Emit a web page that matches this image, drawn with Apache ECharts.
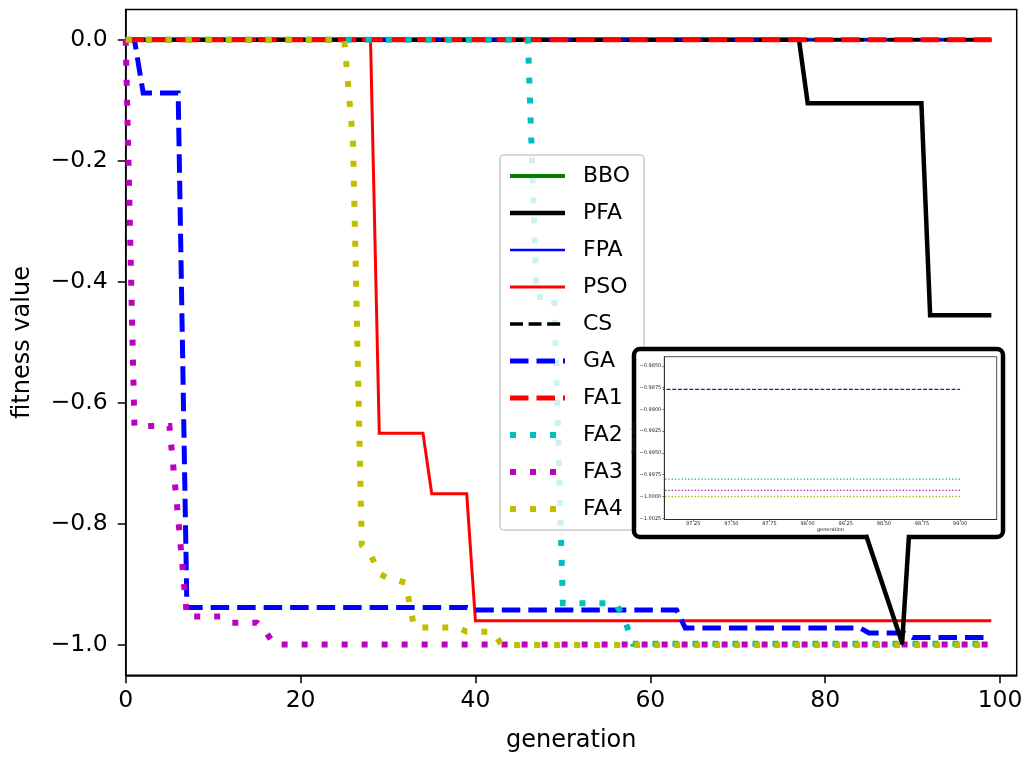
<!DOCTYPE html>
<html>
<head>
<meta charset="utf-8">
<title>fitness value vs generation</title>
<script src="https://cdn.jsdelivr.net/npm/echarts@6/dist/echarts.min.js"></script>
<style>
html, body { margin: 0; padding: 0; background: #fff; }
#chart { width: 1027px; height: 757px; }
</style>
</head>
<body>
<div id="chart"></div>
<script>
// best fitness per generation (0..99)
var BBO = [
	0, 0, 0, 0, 0, 0, 0, 0, 0, 0,
	0, 0, 0, 0, 0, 0, 0, 0, 0, 0,
	0, 0, 0, 0, 0, 0, 0, 0, 0, 0,
	0, 0, 0, 0, 0, 0, 0, 0, 0, 0,
	0, 0, 0, 0, 0, 0, 0, 0, 0, 0,
	0, 0, 0, 0, 0, 0, 0, 0, 0, 0,
	0, 0, 0, 0, 0, 0, 0, 0, 0, 0,
	0, 0, 0, 0, 0, 0, 0, 0, 0, 0,
	0, 0, 0, 0, 0, 0, 0, 0, 0, 0,
	0, 0, 0, 0, 0, 0, 0, 0, 0, 0
];
var PFA = [
	0, 0, 0, 0, 0, 0, 0, 0, 0, 0,
	0, 0, 0, 0, 0, 0, 0, 0, 0, 0,
	0, 0, 0, 0, 0, 0, 0, 0, 0, 0,
	0, 0, 0, 0, 0, 0, 0, 0, 0, 0,
	0, 0, 0, 0, 0, 0, 0, 0, 0, 0,
	0, 0, 0, 0, 0, 0, 0, 0, 0, 0,
	0, 0, 0, 0, 0, 0, 0, 0, 0, 0,
	0, 0, 0, 0, 0, 0, 0, 0, -0.105, -0.105,
	-0.105, -0.105, -0.105, -0.105, -0.105, -0.105, -0.105, -0.105, -0.105, -0.105,
	-0.105, -0.105, -0.455, -0.455, -0.455, -0.455, -0.455, -0.455, -0.455, -0.455
];
var FPA = [
	0, 0, 0, 0, 0, 0, 0, 0, 0, 0,
	0, 0, 0, 0, 0, 0, 0, 0, 0, 0,
	0, 0, 0, 0, 0, 0, 0, 0, 0, 0,
	0, 0, 0, 0, 0, 0, 0, 0, 0, 0,
	0, 0, 0, 0, 0, 0, 0, 0, 0, 0,
	0, 0, 0, 0, 0, 0, 0, 0, 0, 0,
	0, 0, 0, 0, 0, 0, 0, 0, 0, 0,
	0, 0, 0, 0, 0, 0, 0, 0, 0, 0,
	0, 0, 0, 0, 0, 0, 0, 0, 0, 0,
	0, 0, 0, 0, 0, 0, 0, 0, 0, 0
];
var PSO = [
	0, 0, 0, 0, 0, 0, 0, 0, 0, 0,
	0, 0, 0, 0, 0, 0, 0, 0, 0, 0,
	0, 0, 0, 0, 0, 0, 0, 0, 0, -0.65,
	-0.65, -0.65, -0.65, -0.65, -0.65, -0.75, -0.75, -0.75, -0.75, -0.75,
	-0.96, -0.96, -0.96, -0.96, -0.96, -0.96, -0.96, -0.96, -0.96, -0.96,
	-0.96, -0.96, -0.96, -0.96, -0.96, -0.96, -0.96, -0.96, -0.96, -0.96,
	-0.96, -0.96, -0.96, -0.96, -0.96, -0.96, -0.96, -0.96, -0.96, -0.96,
	-0.96, -0.96, -0.96, -0.96, -0.96, -0.96, -0.96, -0.96, -0.96, -0.96,
	-0.96, -0.96, -0.96, -0.96, -0.96, -0.96, -0.96, -0.96, -0.96, -0.96,
	-0.96, -0.96, -0.96, -0.96, -0.96, -0.96, -0.96, -0.96, -0.96, -0.96
];
var CS = [
	0, 0, 0, 0, 0, 0, 0, 0, 0, 0,
	0, 0, 0, 0, 0, 0, 0, 0, 0, 0,
	0, 0, 0, 0, 0, 0, 0, 0, 0, 0,
	0, 0, 0, 0, 0, 0, 0, 0, 0, 0,
	0, 0, 0, 0, 0, 0, 0, 0, 0, 0,
	0, 0, 0, 0, 0, 0, 0, 0, 0, 0,
	0, 0, 0, 0, 0, 0, 0, 0, 0, 0,
	0, 0, 0, 0, 0, 0, 0, 0, 0, 0,
	0, 0, 0, 0, 0, 0, 0, 0, 0, 0,
	0, 0, 0, 0, 0, 0, 0, 0, 0, 0
];
var GA = [
	0, 0, -0.088, -0.088, -0.088, -0.088, -0.088, -0.938, -0.938, -0.938,
	-0.938, -0.938, -0.938, -0.938, -0.938, -0.938, -0.938, -0.938, -0.938, -0.938,
	-0.938, -0.938, -0.938, -0.938, -0.938, -0.938, -0.938, -0.938, -0.938, -0.938,
	-0.938, -0.938, -0.938, -0.938, -0.938, -0.938, -0.938, -0.938, -0.938, -0.938,
	-0.942, -0.942, -0.942, -0.942, -0.942, -0.942, -0.942, -0.942, -0.942, -0.942,
	-0.942, -0.942, -0.942, -0.942, -0.942, -0.942, -0.942, -0.942, -0.942, -0.942,
	-0.942, -0.942, -0.942, -0.942, -0.972, -0.972, -0.972, -0.972, -0.972, -0.972,
	-0.972, -0.972, -0.972, -0.972, -0.972, -0.972, -0.972, -0.972, -0.972, -0.972,
	-0.972, -0.972, -0.972, -0.972, -0.972, -0.980, -0.980, -0.980, -0.980, -0.980,
	-0.9877, -0.9877, -0.9877, -0.9877, -0.9877, -0.9877, -0.9877, -0.9877, -0.9877, -0.9877
];
var FA1 = [
	0, 0, 0, 0, 0, 0, 0, 0, 0, 0,
	0, 0, 0, 0, 0, 0, 0, 0, 0, 0,
	0, 0, 0, 0, 0, 0, 0, 0, 0, 0,
	0, 0, 0, 0, 0, 0, 0, 0, 0, 0,
	0, 0, 0, 0, 0, 0, 0, 0, 0, 0,
	0, 0, 0, 0, 0, 0, 0, 0, 0, 0,
	0, 0, 0, 0, 0, 0, 0, 0, 0, 0,
	0, 0, 0, 0, 0, 0, 0, 0, 0, 0,
	0, 0, 0, 0, 0, 0, 0, 0, 0, 0,
	0, 0, 0, 0, 0, 0, 0, 0, 0, 0
];
var FA2 = [
	0, 0, 0, 0, 0, 0, 0, 0, 0, 0,
	0, 0, 0, 0, 0, 0, 0, 0, 0, 0,
	0, 0, 0, 0, 0, 0, 0, 0, 0, 0,
	0, 0, 0, 0, 0, 0, 0, 0, 0, 0,
	0, 0, 0, 0, 0, 0, 0, -0.425, -0.425, -0.425,
	-0.931, -0.931, -0.931, -0.931, -0.931, -0.931, -0.931, -0.955, -0.998, -0.998,
	-0.998, -0.998, -0.998, -0.998, -0.998, -0.998, -0.998, -0.998, -0.998, -0.998,
	-0.998, -0.998, -0.998, -0.998, -0.998, -0.998, -0.998, -0.998, -0.998, -0.998,
	-0.998, -0.998, -0.998, -0.998, -0.998, -0.998, -0.998, -0.998, -0.998, -0.998,
	-0.998, -0.998, -0.998, -0.998, -0.998, -0.998, -0.998, -0.998, -0.998, -0.998
];
var FA3 = [
	0, -0.638, -0.638, -0.638, -0.638, -0.638, -0.79, -0.953, -0.953, -0.953,
	-0.953, -0.953, -0.963, -0.963, -0.963, -0.963, -0.978, -0.9993, -0.9993, -0.9993,
	-0.9993, -0.9993, -0.9993, -0.9993, -0.9993, -0.9993, -0.9993, -0.9993, -0.9993, -0.9993,
	-0.9993, -0.9993, -0.9993, -0.9993, -0.9993, -0.9993, -0.9993, -0.9993, -0.9993, -0.9993,
	-0.9993, -0.9993, -0.9993, -0.9993, -0.9993, -0.9993, -0.9993, -0.9993, -0.9993, -0.9993,
	-0.9993, -0.9993, -0.9993, -0.9993, -0.9993, -0.9993, -0.9993, -0.9993, -0.9993, -0.9993,
	-0.9993, -0.9993, -0.9993, -0.9993, -0.9993, -0.9993, -0.9993, -0.9993, -0.9993, -0.9993,
	-0.9993, -0.9993, -0.9993, -0.9993, -0.9993, -0.9993, -0.9993, -0.9993, -0.9993, -0.9993,
	-0.9993, -0.9993, -0.9993, -0.9993, -0.9993, -0.9993, -0.9993, -0.9993, -0.9993, -0.9993,
	-0.9993, -0.9993, -0.9993, -0.9993, -0.9993, -0.9993, -0.9993, -0.9993, -0.9993, -0.9993
];
var FA4 = [
	0, 0, 0, 0, 0, 0, 0, 0, 0, 0,
	0, 0, 0, 0, 0, 0, 0, 0, 0, 0,
	0, 0, 0, 0, 0, 0, -0.17, -0.835, -0.85, -0.882,
	-0.89, -0.893, -0.897, -0.971, -0.971, -0.971, -0.971, -0.971, -0.971, -0.978,
	-0.978, -0.978, -0.978, -1.0, -1.0, -1.0, -1.0, -1.0, -1.0, -1.0,
	-1.0, -1.0, -1.0, -1.0, -1.0, -1.0, -1.0, -1.0, -1.0, -1.0,
	-1.0, -1.0, -1.0, -1.0, -1.0, -1.0, -1.0, -1.0, -1.0, -1.0,
	-1.0, -1.0, -1.0, -1.0, -1.0, -1.0, -1.0, -1.0, -1.0, -1.0,
	-1.0, -1.0, -1.0, -1.0, -1.0, -1.0, -1.0, -1.0, -1.0, -1.0,
	-1.0, -1.0, -1.0, -1.0, -1.0, -1.0, -1.0, -1.0, -1.0, -1.0
];

var names = ['BBO', 'PFA', 'FPA', 'PSO', 'CS', 'GA', 'FA1', 'FA2', 'FA3', 'FA4'];
var values = [BBO, PFA, FPA, PSO, CS, GA, FA1, FA2, FA3, FA4];
var xTicks = [0, 20, 40, 60, 80, 100];
var yTicks = [-1.0, -0.8, -0.6, -0.4, -0.2, 0.0];

// zoomed inset (last generations)
var insetNames = ['GA', 'FA2', 'FA3', 'FA4'];
var insetGens = [97, 98, 99];
var insetXTicks = [97.25, 97.5, 97.75, 98.0, 98.25, 98.5, 98.75, 99.0];
var insetYTicks = [-1.0025, -1.0, -0.9975, -0.995, -0.9925, -0.99, -0.9875, -0.985];
var calloutAnchor = [88.8, -0.9965];

var FONT = 'DejaVu Sans';
// matplotlib-ish line styles: colour, width, dash
var looks = {
	BBO: { c: '#008000', w: 4, d: 'solid' },
	PFA: { c: '#000000', w: 4.5, d: 'solid' },
	FPA: { c: '#0000ff', w: 2.5, d: 'solid' },
	PSO: { c: '#ff0000', w: 3, d: 'solid' },
	CS: { c: '#000000', w: 3.5, d: [13, 5.6] },
	GA: { c: '#0000ff', w: 5, d: [18.5, 8] },
	FA1: { c: '#ff0000', w: 5, d: [18.5, 8] },
	FA2: { c: '#00bfbf', w: 6, d: [6, 14] },
	FA3: { c: '#bf00bf', w: 6, d: [6, 14] },
	FA4: { c: '#bfbf00', w: 6, d: [6, 14] }
};
var insetLooks = {
	GA: { c: '#1c1ca8', d: [4, 1.7] },
	FA2: { c: '#14a8a8', d: [1.3, 2] },
	FA3: { c: '#a818a8', d: [1.3, 2] },
	FA4: { c: '#b0b000', d: [1.3, 2] }
};

function minus(s) { return String(s).replace('-', '\u2212'); }

var series = [];
names.forEach(function (n, k) {
	var lk = looks[n];
	series.push({
		name: n,
		type: 'line',
		xAxisIndex: 0, yAxisIndex: 0,
		data: values[k].map(function (v, g) { return [g, v]; }),
		symbol: 'none',
		silent: true,
		lineStyle: { color: lk.c, width: lk.w, type: lk.d, cap: 'butt', join: 'miter' },
		itemStyle: { color: lk.c }
	});
});
insetNames.forEach(function (n) {
	var arr = values[names.indexOf(n)];
	var lk = insetLooks[n];
	series.push({
		name: n + ' (inset)',
		type: 'line',
		xAxisIndex: 1, yAxisIndex: 1,
		z: 62,
		data: insetGens.map(function (g) { return [g, arr[g]]; }),
		symbol: 'none',
		silent: true,
		lineStyle: { color: lk.c, width: 1.3, type: lk.d, cap: 'butt' }
	});
});

var chart = echarts.init(document.getElementById('chart'), null, { renderer: 'canvas' });
var option = {
	animation: false,
	backgroundColor: '#ffffff',
	textStyle: { fontFamily: FONT },
	grid: [{
		left: 125.7, right: 10.3, top: 9.5, bottom: 81.7,
		containLabel: false, outerBoundsMode: 'none',
		show: true, borderColor: '#000', borderWidth: 1.5, backgroundColor: 'transparent'
	}, {
		left: 664.3, top: 356.7, width: 332.4, height: 162.8,
		containLabel: false, outerBoundsMode: 'none', z: 60,
		show: true, borderColor: '#222', borderWidth: 0.8, backgroundColor: '#fff'
	}],
	xAxis: [{
		type: 'value', gridIndex: 0, min: 0, max: 101.9,
		name: 'generation', nameLocation: 'middle', nameGap: 53,
		nameTextStyle: { fontSize: 24, color: '#000', fontFamily: FONT },
		axisLine: { show: true, onZero: false, lineStyle: { color: '#000', width: 1.5 } },
		axisTick: { show: true, inside: false, length: 8, customValues: xTicks, lineStyle: { color: '#000', width: 1.5 } },
		axisLabel: { customValues: xTicks, fontSize: 23.5, color: '#000', fontFamily: FONT, margin: 14 },
		splitLine: { show: false }
	}, {
		type: 'value', gridIndex: 1, min: 97.06, max: 99.24, z: 61,
		name: 'generation', nameLocation: 'middle', nameGap: 6,
		nameTextStyle: { fontSize: 5, color: '#222', fontFamily: FONT },
		axisLine: { show: true, onZero: false, lineStyle: { color: '#222', width: 0.8 } },
		axisTick: { show: true, length: 2, customValues: insetXTicks, lineStyle: { color: '#222', width: 0.6 } },
		axisLabel: {
			customValues: insetXTicks, fontSize: 5, color: '#222', fontFamily: FONT, margin: 2,
			formatter: function (v) { return v.toFixed(2); }
		},
		splitLine: { show: false }
	}],
	yAxis: [{
		type: 'value', gridIndex: 0, min: -1.05, max: 0.05,
		name: 'fitness value', nameLocation: 'middle', nameGap: 91, nameRotate: 90,
		nameTextStyle: { fontSize: 24, color: '#000', fontFamily: FONT },
		axisLine: { show: true, onZero: false, lineStyle: { color: '#000', width: 1.5 } },
		axisTick: { show: true, inside: false, length: 8, customValues: yTicks, lineStyle: { color: '#000', width: 1.5 } },
		axisLabel: {
			customValues: yTicks, fontSize: 23.5, color: '#000', fontFamily: FONT, margin: 18,
			formatter: function (v) { return minus(v.toFixed(1)); }
		},
		splitLine: { show: false }
	}, {
		type: 'value', gridIndex: 1, min: -1.00264, max: -0.98396, z: 61,
		name: 'fitness value', nameLocation: 'middle', nameGap: 22, nameRotate: 90,
		nameTextStyle: { fontSize: 5, color: '#222', fontFamily: FONT },
		axisLine: { show: true, onZero: false, lineStyle: { color: '#222', width: 0.8 } },
		axisTick: { show: true, length: 2, customValues: insetYTicks, lineStyle: { color: '#222', width: 0.6 } },
		axisLabel: {
			customValues: insetYTicks, fontSize: 5, color: '#222', fontFamily: FONT, margin: 3,
			formatter: function (v) { return minus(v.toFixed(4)); }
		},
		splitLine: { show: false }
	}],
	legend: {
		data: names,
		orient: 'vertical',
		left: 500, top: 155,
		padding: [10, 14, 10, 7],
		itemWidth: 55, itemHeight: 14, itemGap: 15,
		backgroundColor: 'rgba(255,255,255,0.8)',
		borderColor: '#cccccc', borderWidth: 1.5, borderRadius: 4,
		selectedMode: false,
		textStyle: { fontSize: 22, color: '#000', fontFamily: FONT, padding: [0, 0, 0, 13] },
		itemStyle: { opacity: 0 },
		lineStyle: { width: 'inherit' }
	},
	series: series
};
chart.setOption(option);

// callout box around the inset, pointer tip on the data
var tip = chart.convertToPixel({ gridIndex: 0 }, calloutAnchor);
var L = 634, T = 349, R = 1003, B = 537, xl = 866, xr = 909;
chart.setOption({
	graphic: [{
		type: 'rect', z: 50, silent: true,
		shape: { x: L, y: T, width: R - L, height: B - T, r: 6 },
		style: { fill: '#fff', stroke: '#000', lineWidth: 4.5 }
	}, {
		// open the bottom edge where the pointer leaves the box
		type: 'line', z: 51, silent: true,
		shape: { x1: xl + 2, y1: B, x2: xr - 2, y2: B },
		style: { stroke: '#fff', lineWidth: 6 }
	}, {
		type: 'polyline', z: 52, silent: true,
		shape: { points: [[xl, B - 2], tip, [xr, B - 2]] },
		style: { fill: null, stroke: '#000', lineWidth: 4.5, lineJoin: 'round' }
	}]
});
</script>
</body>
</html>
